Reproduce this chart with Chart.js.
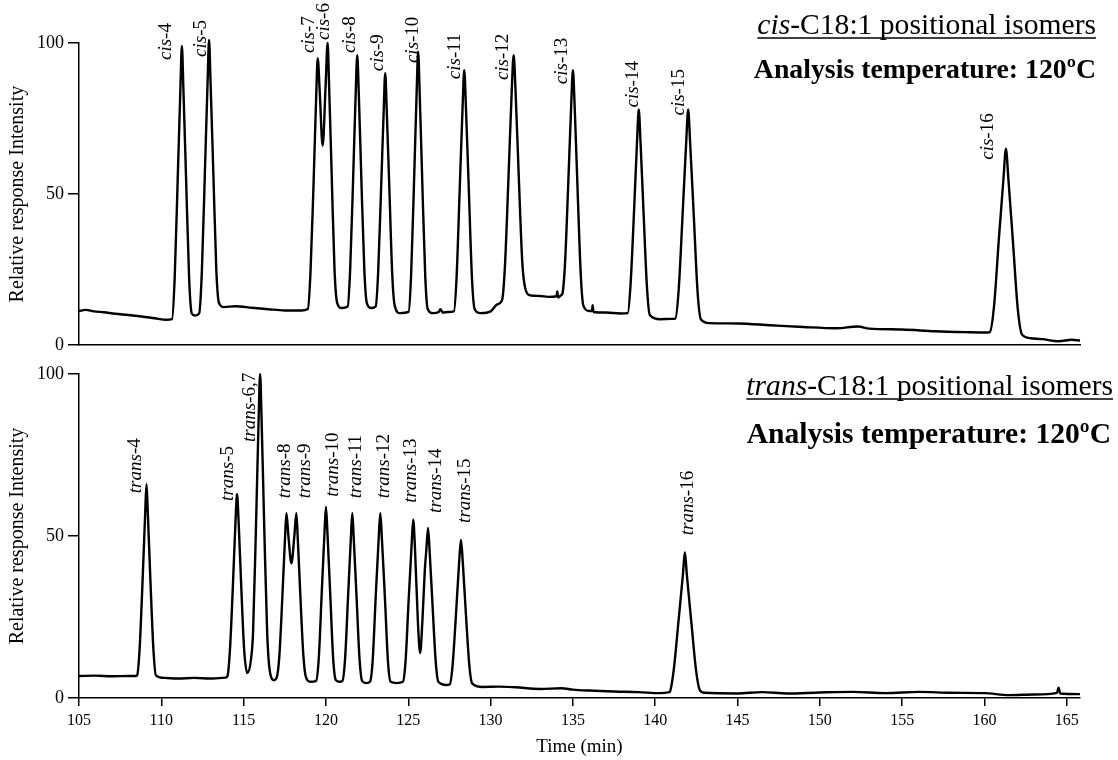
<!DOCTYPE html>
<html>
<head>
<meta charset="utf-8">
<script src="https://cdn.jsdelivr.net/npm/chart.js@4.4.1/dist/chart.umd.min.js"></script>
<style>
body { margin: 0; background: #fff; }
#wrap { position: relative; width: 1118px; height: 760px; }
canvas { position: absolute; left: 0; }
</style>
</head>
<body>
<div id="wrap">
  <canvas id="cisChart" width="1118" height="360" style="top:0px"></canvas>
  <canvas id="transChart" width="1118" height="410" style="top:350px"></canvas>
</div>
<script>
// cis trace (time in min, relative intensity)
let cisTime = [
  105.0, 105.4, 105.9, 106.5, 107.2, 108.0, 108.8, 109.6, 110.3,
  110.65, 110.81, 110.99, 111.16, 111.25, 111.34, 111.51, 111.69, 111.85, 112.05,
  112.3, 112.46, 112.64, 112.81, 112.9, 112.99, 113.16, 113.34, 113.5, 113.8,
  114.5, 115.5, 116.5, 117.5, 118.5,
  118.9, 119.06, 119.25, 119.41, 119.5, 119.62, 119.8, 119.98, 120.1, 120.19, 120.35, 120.52, 120.68, 120.95,
  121.32, 121.47, 121.65, 121.81, 121.9, 121.99, 122.15, 122.33, 122.48, 122.75,
  123.02, 123.17, 123.35, 123.51, 123.6, 123.69, 123.85, 124.03, 124.18, 124.5,
  125.02, 125.17, 125.35, 125.51, 125.6, 125.69, 125.85, 126.03, 126.18, 126.5,
  126.85, 126.95, 127.1, 127.4,
  127.77, 127.93, 128.12, 128.3, 128.4, 128.5, 128.68, 128.87, 129.03, 129.4,
  130.0, 130.4,
  130.7, 130.87, 131.09, 131.29, 131.4, 131.51, 131.71, 131.93, 132.12, 132.4,
  133.0, 133.5, 134.0, 134.05, 134.1, 134.3,
  134.36, 134.52, 134.72, 134.9, 135.0, 135.1, 135.28, 135.48, 135.64, 136.0,
  136.15, 136.2, 136.25, 137.0, 137.9,
  138.33, 138.5, 138.71, 138.9, 139.0, 139.1, 139.29, 139.5, 139.67, 140.3, 141.0,
  141.22, 141.42, 141.66, 141.88, 142.0, 142.12, 142.34, 142.58, 142.78, 143.3,
  145.0, 147.0, 149.0, 151.0, 152.3, 153.0, 155.0, 157.0, 159.0, 160.2,
  160.32, 160.58, 160.87, 161.15, 161.3, 161.45, 161.73, 162.02, 162.28,
  162.8, 163.5, 164.5, 165.3, 165.8
];
let cisSignal = [
  11.3, 11.7, 11.2, 10.9, 10.4, 10.0, 9.5, 8.9, 8.4,
  8.6, 22, 54, 85, 99, 85, 54, 22, 10.5, 9.8,
  10.5, 24, 56, 87, 101, 87, 57, 25, 14, 12.6,
  12.9, 12.4, 11.9, 11.5, 11.5,
  12, 24, 54, 83, 95, 84, 66, 86, 100, 86, 56, 25, 14, 12.3,
  12.8, 25, 55, 84, 96, 84, 55, 25, 14, 12.3,
  12.8, 24, 52, 78, 90, 78, 52, 23, 13, 10.6,
  11, 23, 54, 84, 97, 84, 54, 23, 12, 10.6,
  11.0, 11.9, 10.8, 11,
  11.2, 22, 51, 79, 91, 79, 51, 22, 12, 10.6,
  11.2, 13.5,
  15, 26, 56, 85, 96, 85, 56, 27, 18.5, 16.5,
  16.3, 16.0, 16.2, 17.8, 15.8, 16.6,
  17, 27, 54, 80, 91, 80, 52, 23, 13, 11.3,
  11.3, 13.2, 11, 10.8, 10.5,
  10.6, 20, 44, 68, 78, 68, 44, 19, 10, 8.6, 8.7,
  8.8, 18, 43, 67, 78, 67, 43, 17, 8.5, 7.3,
  7.2, 6.6, 6.0, 5.6, 6.2, 5.5, 5.2, 4.6, 4.3, 4.2,
  4.3, 13, 35, 55, 65, 55, 34, 12, 3.5,
  2.3, 2.0, 1.3, 1.8, 1.5
];

// trans trace
let transTime = [
  105.0, 106.0, 107.0, 108.0, 108.45,
  108.53, 108.68, 108.86, 109.02, 109.1, 109.18, 109.34, 109.52, 109.67, 110.2,
  111.0, 112.0, 113.0, 113.9,
  114.02, 114.17, 114.35, 114.51, 114.6, 114.69, 114.85, 115.03, 115.22,
  115.45, 115.57, 115.75, 115.91, 116.0, 116.09, 116.25, 116.43, 116.6, 116.85,
  117.02, 117.17, 117.35, 117.51, 117.6, 117.72, 117.9, 118.08, 118.2, 118.29, 118.45, 118.63, 118.78, 119.05,
  119.4, 119.56, 119.74, 119.91, 120.0, 120.09, 120.26, 120.44, 120.6, 120.8,
  121.0, 121.16, 121.34, 121.51, 121.6, 121.69, 121.86, 122.04, 122.2, 122.45,
  122.67, 122.83, 123.02, 123.2, 123.3, 123.4, 123.58, 123.77, 123.93, 124.3,
  124.67, 124.83, 125.02, 125.2, 125.3, 125.4, 125.58, 125.72, 125.86, 126.0, 126.1, 126.2, 126.3, 126.48, 126.67, 126.83, 127.3,
  127.52, 127.69, 127.9, 128.09, 128.2, 128.31, 128.5, 128.71, 128.88, 129.5,
  130.5, 131.5, 133.0, 134.3, 135.0, 136.0, 137.5, 139.0, 140.3, 140.85,
  140.9, 141.12, 141.4, 141.68, 141.8, 141.92, 142.2, 142.48, 142.7, 143.0,
  145.0, 146.5, 148.0, 150.0, 152.0, 154.0, 156.0, 158.0, 160.0, 161.5, 163.0,
  164.4, 164.5, 164.6, 165.8
];
let transSignal = [
  6.8, 6.9, 6.7, 6.8, 6.8,
  7, 15, 36, 57, 66, 57, 36, 15, 7, 6.2,
  6.0, 6.2, 6.0, 6.3,
  6.8, 15, 35, 55, 63, 55, 35, 15, 7.7,
  12, 20, 53, 86, 100, 86, 53, 20, 8, 5.5,
  6.5, 13, 31, 49, 57, 50, 41.6, 50, 57, 49, 31, 13, 6.5, 5,
  5.3, 12, 32, 51, 59, 51, 32, 12, 5.5, 5,
  5.3, 12, 31, 49, 57, 49, 31, 12, 5.2, 4.6,
  5, 11, 31, 49, 57, 49, 31, 11, 5, 4.6,
  5, 11, 30, 47, 55, 47, 24, 13.9, 24, 39, 46, 52.5, 45, 28, 11, 5, 4,
  4.2, 10, 26, 42, 48.8, 42, 26, 10, 4.5, 3.4,
  3.5, 3.3, 2.8, 3.0, 2.6, 2.3, 2.0, 1.8, 1.5, 1.8,
  2, 8.5, 23, 38, 45, 38, 23, 8.5, 2.5, 1.6,
  1.4, 1.8, 1.4, 1.7, 1.9, 1.5, 1.9, 1.6, 1.5, 0.9, 1.1,
  1.6, 3.2, 1.4, 1.2
];

// peak names and apexes
let cisPeaks = ['cis-4', 'cis-5', 'cis-7', 'cis-6', 'cis-8', 'cis-9', 'cis-10', 'cis-11', 'cis-12', 'cis-13', 'cis-14', 'cis-15', 'cis-16'];
let cisPeakTime = [111.25, 112.9, 119.5, 120.1, 121.9, 123.6, 125.6, 128.4, 131.4, 135.0, 139.0, 142.0, 161.3];
let cisPeakHeight = [99, 101, 95, 100, 96, 90, 97, 91, 96, 91, 78, 78, 65];

let transPeaks = ['trans-4', 'trans-5', 'trans-6,7', 'trans-8', 'trans-9', 'trans-10', 'trans-11', 'trans-12', 'trans-13', 'trans-14', 'trans-15', 'trans-16'];
let transPeakTime = [109.1, 114.6, 116.0, 117.6, 118.2, 120.0, 121.6, 123.3, 125.3, 126.2, 128.2, 141.8];
let transPeakHeight = [66, 63, 100, 57, 57, 59, 57, 57, 55, 52.5, 48.8, 45];

let yTicks = [0, 50, 100];
let xTicks = [105, 110, 115, 120, 125, 130, 135, 140, 145, 150, 155, 160, 165];
let xRange = [105, 165.8];

let serif = '"Liberation Serif", "Times New Roman", serif';

// label nudges in px: [dx from apex, dy from apex to start of the rotated text]
let cisShift = [[-16, 14], [-8, 17], [-9, -5], [-4, -3], [-7, -2], [-7, -2], [-5, 11], [-9, 9], [-11, 25], [-11, 14], [-6, -2], [-9, 6], [-18, 11]];
let transShift = [[-11, 9], [-9, 7], [-10, 68], [-1, -15], [9, -15], [7, -10], [4, -15], [4, -15], [-2, -17], [8, -15], [4, -17], [3, -17]];

function drawRuns(ctx, runs, size, right, base, underline) {
	let total = 0;
	runs.forEach(r => {
		ctx.font = r[0] + ' ' + size + 'px ' + serif;
		total += ctx.measureText(r[1]).width;
	});
	let x = right - total;
	ctx.textAlign = 'left';
	ctx.textBaseline = 'alphabetic';
	runs.forEach(r => {
		ctx.font = r[0] + ' ' + size + 'px ' + serif;
		ctx.fillText(r[1], x, base);
		x += ctx.measureText(r[1]).width;
	});
	if (underline) {
		ctx.lineWidth = 1.5;
		ctx.beginPath();
		ctx.moveTo(right - total, base + 4);
		ctx.lineTo(right, base + 4);
		ctx.stroke();
	}
}

function peakPlugin(names, times, heights, shifts, prefix, head) {
	return {
		id: 'peakText',
		afterDatasetsDraw(chart) {
			let ctx = chart.ctx;
			let xs = chart.scales.x;
			let ys = chart.scales.y;
			ctx.save();
			ctx.fillStyle = '#000';
			ctx.strokeStyle = '#000';
			names.forEach((name, i) => {
				let cut = name.indexOf('-');
				let px = xs.getPixelForValue(times[i]) + shifts[i][0];
				let py = ys.getPixelForValue(heights[i]) + shifts[i][1];
				ctx.save();
				ctx.translate(px, py);
				ctx.rotate(-Math.PI / 2);
				ctx.textAlign = 'left';
				ctx.textBaseline = 'middle';
				ctx.font = 'italic 19px ' + serif;
				ctx.fillText(name.slice(0, cut), 0, 0);
				let w = ctx.measureText(name.slice(0, cut)).width;
				ctx.font = '19px ' + serif;
				ctx.fillText(name.slice(cut), w, 0);
				ctx.restore();
			});
			// head: [right edge, baseline, size] for the two heading lines
			drawRuns(ctx, [['italic', prefix], ['normal', '-C18:1 positional isomers']], head[0][2], head[0][0], head[0][1], true);
			drawRuns(ctx, [['bold', 'Analysis temperature: 120\u00baC']], head[1][2], head[1][0], head[1][1], false);
			ctx.restore();
		}
	};
}

function yAxis() {
	return {
		min: 0,
		max: 100,
		afterBuildTicks: s => { s.ticks = yTicks.map(v => ({ value: v })); },
		afterFit: s => { s.width = 79; },
		ticks: { color: '#000', padding: 4, font: { family: serif, size: 18 } },
		grid: { drawOnChartArea: false, tickLength: 11, color: '#000', lineWidth: 1.5 },
		border: { color: '#000', width: 1.5 },
		title: {
			display: true,
			text: 'Relative response Intensity',
			color: '#000',
			font: { family: serif, size: 20 },
			padding: { top: 6, bottom: 0 }
		}
	};
}

function trace(times, values) {
	return {
		data: times.map((t, i) => ({ x: t, y: values[i] })),
		borderColor: '#000',
		borderWidth: 2.4,
		pointRadius: 0,
		cubicInterpolationMode: 'monotone',
		clip: false
	};
}

let cisChart = new Chart(document.getElementById('cisChart'), {
	type: 'line',
	data: { datasets: [trace(cisTime, cisSignal)] },
	options: {
		responsive: false,
		animation: false,
		events: [],
		layout: { padding: { top: 43, right: 38, left: 0, bottom: 0 } },
		plugins: { legend: { display: false }, tooltip: { enabled: false } },
		scales: {
			x: {
				type: 'linear',
				min: xRange[0],
				max: xRange[1],
				ticks: { display: false },
				grid: { display: false },
				border: { color: '#000', width: 1.5 },
				afterFit: s => { s.height = 8; }
			},
			y: yAxis()
		}
	},
	plugins: [peakPlugin(cisPeaks, cisPeakTime, cisPeakHeight, cisShift, 'cis', [[1096, 34, 29.6], [1096, 78, 27.8]])]
});

let transChart = new Chart(document.getElementById('transChart'), {
	type: 'line',
	data: { datasets: [trace(transTime, transSignal)] },
	options: {
		responsive: false,
		animation: false,
		events: [],
		layout: { padding: { top: 24, right: 38, left: 0, bottom: 0 } },
		plugins: { legend: { display: false }, tooltip: { enabled: false } },
		scales: {
			x: {
				type: 'linear',
				min: xRange[0],
				max: xRange[1],
				afterBuildTicks: s => { s.ticks = xTicks.map(v => ({ value: v })); },
				afterFit: s => { s.height = 62; },
				ticks: { color: '#000', padding: 5, maxRotation: 0, font: { family: serif, size: 16 } },
				grid: { drawOnChartArea: false, tickLength: 8, color: '#000', lineWidth: 1.5 },
				border: { color: '#000', width: 1.5 },
				title: {
					display: true,
					text: 'Time (min)',
					color: '#000',
					font: { family: serif, size: 19 },
					padding: { top: 0, bottom: 2 }
				}
			},
			y: yAxis()
		}
	},
	plugins: [peakPlugin(transPeaks, transPeakTime, transPeakHeight, transShift, 'trans', [[1113, 45, 29.6], [1111, 93, 29.6]])]
});
</script>
</body>
</html>
